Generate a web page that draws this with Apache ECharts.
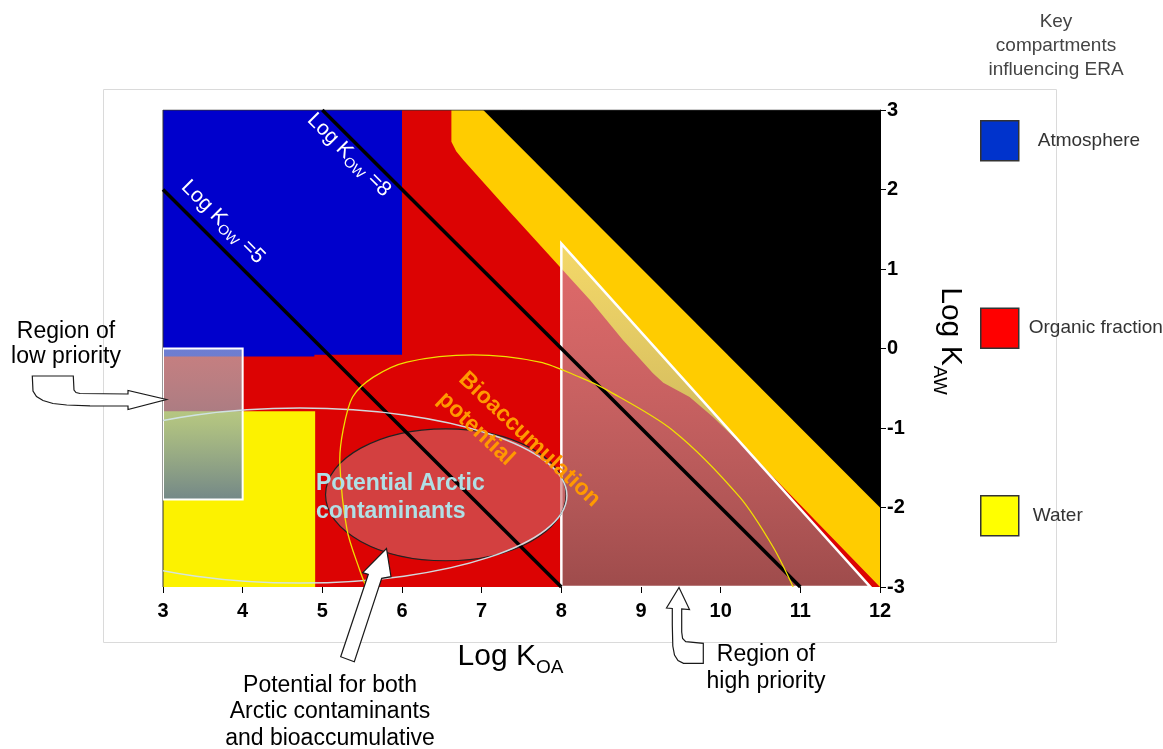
<!DOCTYPE html>
<html>
<head>
<meta charset="utf-8">
<script src="https://cdn.jsdelivr.net/npm/echarts@6/dist/echarts.min.js"></script>
<style>
  html, body { margin: 0; padding: 0; background: #fff; }
  #chart { width: 1163px; height: 749px; }
</style>
</head>
<body>
<div id="chart"></div>
<script>
// axis ranges (log KOA along x, log KAW along y)
const koaRange = [3, 12];
const kawRange = [-3, 3];

// compartment regions, points are [log KOA, log KAW]
const organicFraction = [[3, 3], [12, 3], [12, -3], [3, -3]];
const atmosphere = [[3, 3], [6, 3], [6, -0.08], [4.9, -0.08], [4.9, -0.1], [3, -0.1]];
const water = [[3, -0.79], [4.91, -0.79], [4.91, -3], [3, -3]];
const goldBand = [[6.62, 3], [6.62, 2.6], [6.68, 2.48], [6.77, 2.37], [7.36, 1.71], [7.96, 1.05],
  [8.36, 0.61], [8.77, 0.11], [9.15, -0.31], [9.28, -0.43], [9.61, -0.61], [9.9, -0.86],
  [10.24, -1.19], [10.41, -1.36], [12, -3], [12, 3]];
const blackZone = [[7.02, 3], [12, 3], [12, -2]];

// priority regions
const highPriority = [[8, 1.32], [8, -3], [11.88, -3]];
const lowPriority = [[3, 0], [4, 0], [4, -1.9], [3, -1.9]];

// iso-KOW lines
const kow5 = [[3, 2], [8, -3]];
const kow8 = [[5, 3], [11, -3]];

// bioaccumulation potential outline
const bioPotential = [[5.55, -3.0], [5.47, -2.79], [5.31, -2.28], [5.22, -1.44], [5.26, -1.03],
  [5.38, -0.61], [5.64, -0.36], [6.06, -0.17], [6.89, -0.08], [7.73, -0.17], [8.23, -0.36],
  [8.57, -0.52], [9.4, -1.03], [10.24, -1.87], [10.66, -2.5], [10.91, -3.0]];

// ellipses: centre KOA, centre KAW, half width, half height
const arcticZone = [6.55, -1.84, 1.51, 0.83];
const greyZone = [4.72, -1.85, 3.35, 1.10];

const F = "'Liberation Sans', Arial, Helvetica, sans-serif";

function shapeSeries(name, pts, type, style, z, smooth) {
  return {
    type: 'custom', name: name, z: z, silent: true, clip: true,
    data: pts,
    renderItem: function (params, api) {
      if (params.dataIndex !== 0) return null;
      const shape = { points: pts.map(p => api.coord(p)) };
      if (smooth) shape.smooth = smooth;
      return { type: type, shape: shape, style: style };
    }
  };
}
const polygonSeries = (name, pts, style, z) => shapeSeries(name, pts, 'polygon', style, z);

function ellipseSeries(name, e, style, z) {
  return {
    type: 'custom', name: name, z: z, silent: true, clip: true,
    data: [[e[0], e[1]]],
    renderItem: function (params, api) {
      const c = api.coord([api.value(0), api.value(1)]);
      const s = api.size([e[2], e[3]]);
      return { type: 'ellipse', shape: { cx: c[0], cy: c[1], rx: s[0], ry: s[1] }, style: style };
    }
  };
}

function lineSeries(name, pts, color, width, z) {
  return {
    type: 'line', name: name, z: z, silent: true, data: pts,
    showSymbol: false, symbol: 'none', clip: true,
    lineStyle: { color: color, width: width }
  };
}

const grad = (stops) => new echarts.graphic.LinearGradient(0, 0, 0, 1,
  stops.map((c, i) => ({ offset: i / (stops.length - 1), color: c })));

const chart = echarts.init(document.getElementById('chart'), null, { renderer: 'canvas' });

const arrowStyle = { fill: '#fff', stroke: '#1a1a1a', lineWidth: 1.2 };
const callout = (x, y, text, size, lh) => ({
  type: 'text', x: x, y: y, z: 100,
  style: { text: text, fontSize: size, fontFamily: F, fill: '#000', align: 'center', verticalAlign: 'middle', lineHeight: lh }
});
const kowLabel = (x, y, val) => ({
  type: 'text', x: x, y: y, rotation: -Math.PI / 4, z: 100,
  style: {
    text: '{a|Log K}{s|OW}{a| =' + val + '}', align: 'center', verticalAlign: 'middle',
    rich: {
      a: { fontSize: 21, fontFamily: F, fill: '#fff' },
      s: { fontSize: 14, fontFamily: F, fill: '#fff', padding: [12, 0, 0, 0] }
    }
  }
});

const option = {
  animation: false,
  textStyle: { fontFamily: F },
  grid: { left: 163, right: 283, top: 110, bottom: 162, containLabel: false, outerBoundsMode: 'none' },
  xAxis: {
    type: 'value', min: koaRange[0], max: koaRange[1], interval: 1, position: 'bottom', z: 30,
    axisLine: { show: false, onZero: false },
    axisTick: { show: true, length: 6, lineStyle: { color: '#000' } },
    axisLabel: { fontSize: 20, fontWeight: 'bold', color: '#000', margin: 14, fontFamily: F },
    splitLine: { show: false },
    name: '{a|Log K}{b|OA}', nameLocation: 'middle', nameGap: 50,
    nameTextStyle: {
      padding: [0, 22, 0, 0],
      rich: {
        a: { fontSize: 30, color: '#000', fontFamily: F },
        b: { fontSize: 19, color: '#000', fontFamily: F, padding: [21, 0, 0, 0] }
      }
    }
  },
  yAxis: {
    type: 'value', min: kawRange[0], max: kawRange[1], interval: 1, position: 'right', z: 30,
    axisLine: { show: true, onZero: false, lineStyle: { color: '#000', width: 1 } },
    axisTick: { show: true, length: 6, lineStyle: { color: '#000' } },
    axisLabel: { fontSize: 20, fontWeight: 'bold', color: '#000', margin: 7, fontFamily: F },
    splitLine: { show: false },
    name: '{a|Log K}{b|AW}', nameLocation: 'middle', nameRotate: -90, nameGap: 50,
    nameTextStyle: {
      padding: [0, 15, 0, 0],
      rich: {
        a: { fontSize: 30, color: '#000', fontFamily: F },
        b: { fontSize: 18.5, color: '#000', fontFamily: F, padding: [21, 0, 0, 0] }
      }
    }
  },
  legend: {
    orient: 'vertical', left: 975, top: 115, itemWidth: 38, itemHeight: 40, itemGap: 146,
    icon: 'rect', selectedMode: false,
    textStyle: { fontSize: 19, color: '#333', fontFamily: F },
    data: [
      { name: 'Atmosphere', itemStyle: { color: '#0033cc', borderColor: '#333', borderWidth: 1.5 }, textStyle: { padding: [0, 0, 0, 14] } },
      { name: 'Organic fraction', itemStyle: { color: '#ff0000', borderColor: '#333', borderWidth: 1.5 }, textStyle: { padding: [0, 0, 0, 5] } },
      { name: 'Water', itemStyle: { color: '#ffff00', borderColor: '#333', borderWidth: 1.5 }, textStyle: { padding: [0, 0, 0, 9] } }
    ]
  },
  series: [
    polygonSeries('Organic fraction', organicFraction, { fill: '#dc0303' }, 2),
    polygonSeries('Atmosphere', atmosphere, { fill: '#0000cc' }, 3),
    polygonSeries('Water', water, { fill: '#fcf200' }, 4),
    polygonSeries('gold', goldBand, { fill: '#ffcc00' }, 5),
    polygonSeries('black', blackZone, { fill: '#000' }, 6),
    lineSeries('frame', [[3, -3], [3, 3], [12, 3]], '#333', 1, 7),
    polygonSeries('High priority', highPriority, {
      fill: grad(['rgba(231,231,231,0.45)', 'rgba(120,120,120,0.62)']),
      stroke: '#fff', lineWidth: 2.5, lineJoin: 'miter'
    }, 8),
    polygonSeries('Low priority', lowPriority, {
      fill: grad(['rgba(186,213,215,0.59)', 'rgba(143,172,182,0.71)', 'rgba(80,108,169,0.8)']),
      stroke: '#fff', lineWidth: 2
    }, 9),
    ellipseSeries('Arctic', arcticZone, { fill: 'rgba(205,105,105,0.6)', stroke: '#222', lineWidth: 1.2 }, 10),
    lineSeries('KOW 5', kow5, '#000', 3.5, 11),
    lineSeries('KOW 8', kow8, '#000', 3.5, 12),
    ellipseSeries('grey', greyZone, { fill: 'none', stroke: 'rgba(210,228,232,0.95)', lineWidth: 1.5 }, 13),
    shapeSeries('Bioaccumulation', bioPotential, 'polyline', { fill: 'none', stroke: '#f0e000', lineWidth: 1.3 }, 14, 0.3)
  ],
  graphic: [
    { type: 'rect', z: 0, shape: { x: 103.5, y: 89.5, width: 953, height: 553 }, style: { fill: 'none', stroke: '#dadada', lineWidth: 1 } },
    {
      type: 'text', x: 1056, y: 46, z: 100,
      style: { text: 'Key\ncompartments\ninfluencing ERA', fontSize: 19, fontFamily: F, fill: '#444', align: 'center', verticalAlign: 'middle', lineHeight: 24 }
    },
    kowLabel(223, 222, 5),
    kowLabel(349, 155, 8),
    {
      type: 'text', x: 462, y: 376, rotation: -0.755, z: 100,
      style: { text: 'Bioaccumulation', fontSize: 23, fontWeight: 'bold', fontFamily: F, fill: '#ff9900', align: 'left', verticalAlign: 'middle' }
    },
    {
      type: 'text', x: 441, y: 396, rotation: -0.755, z: 100,
      style: { text: 'potential', fontSize: 23, fontWeight: 'bold', fontFamily: F, fill: '#ff9900', align: 'left', verticalAlign: 'middle' }
    },
    {
      type: 'text', x: 316, y: 498, z: 100,
      style: { text: 'Potential Arctic\ncontaminants', fontSize: 23, fontWeight: 'bold', fontFamily: F, fill: '#b0e0e6', align: 'left', verticalAlign: 'middle', lineHeight: 28 }
    },
    callout(66, 344, 'Region of\nlow priority', 23, 25),
    callout(330, 712, 'Potential for both\nArctic contaminants\nand bioaccumulative', 23, 26.5),
    callout(766, 668, 'Region of\nhigh priority', 23, 26.7),
    {
      type: 'polygon', z: 100, style: arrowStyle,
      shape: { points: [[32.3, 376], [73.3, 376], [74, 390], [76, 392.5], [80, 393.5], [128, 394], [128, 390.5], [166.5, 399.5],
        [128, 409.5], [128, 406], [90, 405.8], [66.7, 405], [53, 403.5], [43, 400.5], [36.5, 396.5], [33, 391]] }
    },
    {
      type: 'polygon', z: 100, style: arrowStyle,
      shape: { points: [[386.5, 548.5], [391, 576.7], [381.7, 578.3], [354.3, 661.7], [340.7, 656.7], [368.3, 574.3], [362.7, 572.7]] }
    },
    {
      type: 'polygon', z: 100, style: arrowStyle,
      shape: { points: [[679, 587.5], [689.5, 609.5], [681.7, 609], [681.7, 632], [682.6, 638.5], [685.7, 641.7], [703.3, 643.3],
        [703.3, 663.3], [683.5, 663.3], [678, 660.5], [674.5, 655], [672.8, 646], [672.3, 625], [672.3, 608.5], [666.5, 608]] }
    }
  ]
};

chart.setOption(option);
</script>
</body>
</html>
